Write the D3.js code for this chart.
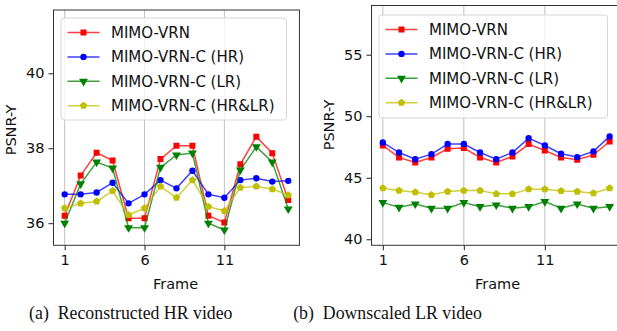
<!DOCTYPE html>
<html>
<head>
<meta charset="utf-8">
<script src="https://cdn.jsdelivr.net/npm/d3@7"></script>
<style>
  body { margin: 0; background: #fff; }
  svg { display: block; }
  text { font-family: "DejaVu Sans", sans-serif; fill: #111; }
  .caption { font-family: "Liberation Serif", serif; }
</style>
</head>
<body>
<div id="chart"></div>
<script>
// frame numbers on the x axis
const frames = d3.range(1, 16);
const seriesNames = ["MIMO-VRN", "MIMO-VRN-C (HR)", "MIMO-VRN-C (LR)", "MIMO-VRN-C (HR&LR)"];
const seriesColors = ["#ff0000", "#0000ff", "#008000", "#bfbf00"];
const seriesMarkers = ["square", "circle", "triangle", "pentagon"];

// (a) reconstructed HR video
const hrVrn   = [36.20, 37.27, 37.88, 37.67, 36.13, 36.13, 37.71, 38.07, 38.07, 36.20, 36.02, 37.57, 38.31, 37.87, 36.62];
const hrCHr   = [36.77, 36.77, 36.82, 37.08, 36.53, 36.77, 37.15, 36.93, 37.40, 36.77, 36.68, 37.15, 37.20, 37.11, 37.13];
const hrCLr   = [36.00, 37.05, 37.63, 37.47, 35.88, 35.88, 37.49, 37.82, 37.87, 36.00, 35.82, 37.42, 38.04, 37.63, 36.38];
const hrCBoth = [36.40, 36.53, 36.58, 36.86, 36.22, 36.40, 36.98, 36.68, 37.15, 36.44, 36.33, 36.95, 36.98, 36.91, 36.75];

// (b) downscaled LR video
const lrVrn   = [47.62, 46.65, 46.24, 46.65, 47.35, 47.41, 46.65, 46.24, 46.73, 47.74, 47.22, 46.65, 46.46, 46.86, 47.95];
const lrCHr   = [47.87, 47.05, 46.51, 46.92, 47.74, 47.74, 47.05, 46.51, 47.05, 48.22, 47.62, 46.95, 46.68, 47.14, 48.36];
const lrCLr   = [42.98, 42.60, 42.87, 42.52, 42.52, 42.98, 42.65, 42.79, 42.52, 42.65, 43.06, 42.52, 42.87, 42.52, 42.65];
const lrCBoth = [44.15, 43.96, 43.83, 43.61, 43.88, 43.96, 43.96, 43.69, 43.69, 44.07, 44.07, 43.93, 43.88, 43.75, 44.15];

const xTicks = [1, 6, 11];
const yTicksA = [36, 38, 40];
const yTicksB = [40, 45, 50, 55];
const captions = ["(a)  Reconstructed HR video", "(b)  Downscaled LR video"];

const width = 617, height = 331;

const svg = d3.select("#chart").append("svg")
    .attr("width", width)
    .attr("height", height);

// matplotlib style pentagon marker
const symbolPentagon = {
    draw(context, size) {
        const r = Math.sqrt(size / 2.38);
        for (let i = 0; i < 5; i++) {
            const a = -Math.PI / 2 + i * 2 * Math.PI / 5;
            const x = r * Math.cos(a), y = r * Math.sin(a);
            if (i === 0) context.moveTo(x, y); else context.lineTo(x, y);
        }
        context.closePath();
    }
};
const symbolTriDown = {
    draw(context, size) {
        const r = Math.sqrt(size / 1.3);
        context.moveTo(-r * 0.87, -r * 0.5);
        context.lineTo(r * 0.87, -r * 0.5);
        context.lineTo(0, r);
        context.closePath();
    }
};
const symbolTypes = {
    square: d3.symbolSquare,
    circle: d3.symbolCircle,
    triangle: symbolTriDown,
    pentagon: symbolPentagon
};
const symbolSizes = { square: 36, circle: 32, triangle: 34, pentagon: 36 };

function drawPanel(cfg) {
    const x = d3.scaleLinear().domain([0.3, 15.7]).range([cfg.left, cfg.left + 15.4 * cfg.pxPerFrame]);
    const y = d3.scaleLinear().domain(cfg.yDomain).range([cfg.bottom, cfg.top]);
    const right = Math.min(x.range()[1], width + 5);

    const g = svg.append("g");
    const clipId = "clip" + cfg.id;
    svg.append("clipPath").attr("id", clipId)
        .append("rect")
        .attr("x", cfg.left).attr("y", cfg.top)
        .attr("width", right - cfg.left).attr("height", cfg.bottom - cfg.top);

    // vertical grid
    g.selectAll(".grid")
        .data(xTicks)
        .enter()
        .append("line")
        .attr("x1", d => x(d)).attr("x2", d => x(d))
        .attr("y1", cfg.top).attr("y2", cfg.bottom)
        .style("stroke", "#b0b0b0")
        .style("stroke-width", "0.8px");

    // x axis
    const xAxis = g.append("g")
        .attr("transform", `translate(0,${cfg.bottom})`)
        .call(d3.axisBottom(x).tickValues(xTicks).tickSize(5).tickPadding(4).tickFormat(d3.format("d")));
    xAxis.select(".domain").remove();
    xAxis.selectAll("text").style("font-size", "14.5px").style("font-family", "DejaVu Sans");
    xAxis.selectAll("line").style("stroke", "#222");

    // y axis
    const yAxis = g.append("g")
        .attr("transform", `translate(${cfg.left},0)`)
        .call(d3.axisLeft(y).tickValues(cfg.yTicks).tickSize(5).tickPadding(4).tickFormat(d3.format("d")));
    yAxis.select(".domain").remove();
    yAxis.selectAll("text").style("font-size", "14.5px").style("font-family", "DejaVu Sans");
    yAxis.selectAll("line").style("stroke", "#222");

    // series lines + markers
    const line = d3.line()
        .x((d, i) => x(frames[i]))
        .y(d => y(d));

    const plot = g.append("g").attr("clip-path", `url(#${clipId})`);
    cfg.series.forEach((vals, s) => {
        plot.append("path")
            .datum(vals)
            .attr("d", line)
            .style("fill", "none")
            .style("stroke", seriesColors[s])
            .style("stroke-width", "1.5px")
            .style("opacity", 0.75);
        plot.selectAll(".m" + s)
            .data(vals)
            .enter()
            .append("path")
            .attr("transform", (d, i) => `translate(${x(frames[i])},${y(d)})`)
            .attr("d", d3.symbol().type(symbolTypes[seriesMarkers[s]]).size(symbolSizes[seriesMarkers[s]]))
            .style("fill", seriesColors[s]);
    });

    // frame
    g.append("rect")
        .attr("x", cfg.left).attr("y", cfg.top)
        .attr("width", x.range()[1] - cfg.left).attr("height", cfg.bottom - cfg.top)
        .style("fill", "none")
        .style("stroke", "#333")
        .style("stroke-width", "1px");

    // legend
    const lg = g.append("g").attr("transform", `translate(${cfg.legend.x},${cfg.legend.y})`);
    lg.append("rect")
        .attr("width", cfg.legend.w).attr("height", cfg.legend.h)
        .attr("rx", 3)
        .style("fill", "#fff")
        .style("fill-opacity", 0.8)
        .style("stroke", "#d6d6d6")
        .style("stroke-width", "1px");
    seriesNames.forEach((name, s) => {
        const ly = 14.5 + s * 24.4;
        lg.append("line")
            .attr("x1", 6.5).attr("x2", 38.5)
            .attr("y1", ly).attr("y2", ly)
            .style("stroke", seriesColors[s])
            .style("stroke-width", "1.5px")
            .style("opacity", 0.75);
        lg.append("path")
            .attr("transform", `translate(22.5,${ly})`)
            .attr("d", d3.symbol().type(symbolTypes[seriesMarkers[s]]).size(symbolSizes[seriesMarkers[s]]))
            .style("fill", seriesColors[s]);
        lg.append("text")
            .attr("x", 50).attr("y", ly)
            .attr("dy", "0.36em")
            .style("font-size", "15px")
            .text(name);
    });

    // axis titles
    g.append("text")
        .attr("x", cfg.left + (cfg.frameLabelX || 122))
        .attr("y", 289)
        .attr("text-anchor", "middle")
        .style("font-size", "14.5px")
        .text("Frame");
    g.append("text")
        .attr("transform", `translate(${cfg.left - 38},${cfg.yLabelY}) rotate(-90)`)
        .attr("text-anchor", "middle")
        .style("font-size", "14.5px")
        .text("PSNR-Y");

    // caption
    svg.append("text")
        .attr("class", "caption")
        .attr("x", cfg.captionX)
        .attr("y", 319)
        .attr("text-anchor", "middle")
        .style("font-size", "17.8px")
        .style("font-family", "Liberation Serif")
        .attr("xml:space", "preserve")
        .text(cfg.caption);
}

drawPanel({
    id: "a",
    left: 53.5, pxPerFrame: 15.97,
    top: 10, bottom: 245.3,
    yDomain: [35.41, 41.69],
    yTicks: yTicksA,
    series: [hrVrn, hrCHr, hrCLr, hrCBoth],
    legend: { x: 61, y: 18, w: 225.5, h: 102 },
    frameLabelX: 122,
    yLabelY: 130,
    caption: captions[0],
    captionX: 130.8
});

drawPanel({
    id: "b",
    left: 371.5, pxPerFrame: 16.2,
    top: 5.5, bottom: 245.3,
    yDomain: [39.51, 59.0],
    yTicks: yTicksB,
    series: [lrVrn, lrCHr, lrCLr, lrCBoth],
    legend: { x: 379, y: 15, w: 228.5, h: 103 },
    frameLabelX: 126,
    yLabelY: 125,
    caption: captions[1],
    captionX: 387.5
});
</script>
</body>
</html>
